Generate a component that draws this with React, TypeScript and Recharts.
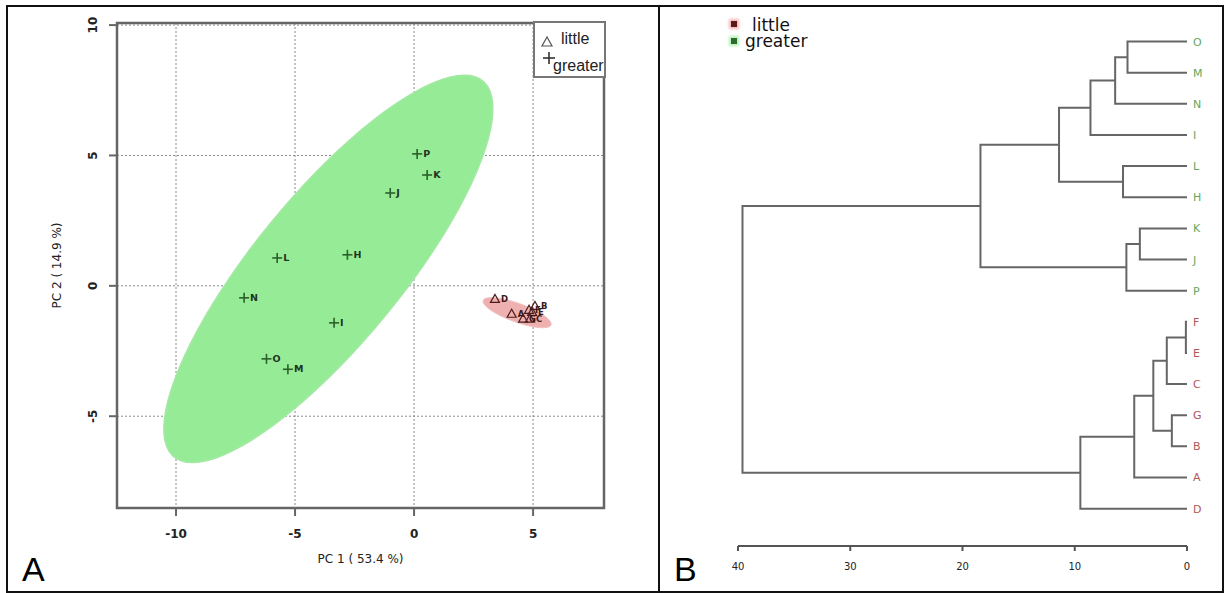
import React from "react";
import {
  ScatterChart, Scatter, XAxis, YAxis, CartesianGrid, ReferenceArea,
} from "recharts";

// ---- panel A: PCA scores ----
const greaterNames = ["H", "I", "J", "K", "L", "M", "N", "O", "P"];
const greaterPC1 = [-2.8, -3.36, -1.0, 0.55, -5.75, -5.3, -7.14, -6.2, 0.13];
const greaterPC2 = [1.19, -1.42, 3.56, 4.25, 1.07, -3.2, -0.46, -2.8, 5.06];

const littleNames = ["A", "B", "C", "D", "E", "F", "G"];
const littlePC1 = [4.1, 5.08, 4.87, 3.4, 4.96, 4.83, 4.58];
const littlePC2 = [-1.07, -0.77, -1.26, -0.5, -1.0, -0.92, -1.26];

// confidence ellipses: centre, semi-axes, rotation (deg)
const greaterEllipse = { cx: -3.6, cy: 0.65, a: 9.7, b: 2.98, angle: 47.5 };
const littleEllipse = { cx: 4.33, cy: -1.03, a: 1.5, b: 0.36, angle: -18 };

const pcaXTicks = [-10, -5, 0, 5];
const pcaYTicks = [-5, 0, 5, 10];

// ---- panel B: dendrogram ----
const leafOrder = ["O", "M", "N", "I", "L", "H", "K", "J", "P", "F", "E", "C", "G", "B", "A", "D"];
const leafGroup = ["g", "g", "g", "g", "g", "g", "g", "g", "g", "l", "l", "l", "l", "l", "l", "l"];
const mergeLeft = ["O", "m1", "m2", "L", "m3", "K", "m6", "m5", "F", "m9", "G", "m10", "m12", "m13", "m8"];
const mergeRight = ["M", "N", "I", "H", "m4", "J", "P", "m7", "E", "C", "B", "m11", "A", "D", "m14"];
const mergeHeight = [5.3, 6.4, 8.6, 5.7, 11.4, 4.2, 5.4, 18.4, 0.1, 1.8, 1.35, 3.0, 4.7, 9.5, 39.6];
const heightTicks = [0, 10, 20, 30, 40];

const font = "'DejaVu Sans', Verdana, sans-serif";
const arial = "'Liberation Sans', Arial, sans-serif";

function ellipsePoints(e: { cx: number; cy: number; a: number; b: number; angle: number }) {
  const t = (e.angle * Math.PI) / 180;
  const pts = [];
  for (let i = 0; i < 90; i++) {
    const u = (i / 90) * Math.PI * 2;
    const x = e.a * Math.cos(u);
    const y = e.b * Math.sin(u);
    pts.push({ x: e.cx + x * Math.cos(t) - y * Math.sin(t), y: e.cy + x * Math.sin(t) + y * Math.cos(t) });
  }
  return pts;
}

const greaterData = greaterNames.map((name, i) => ({ name, x: greaterPC1[i], y: greaterPC2[i] }));
const littleData = littleNames.map((name, i) => ({ name, x: littlePC1[i], y: littlePC2[i] }));

// dendrogram node positions -> U-shaped links
const nodes: Record<string, { y: number; h: number }> = {};
leafOrder.forEach((n, i) => { nodes[n] = { y: i, h: 0 }; });
const links = mergeHeight.map((h, i) => {
  const l = nodes[mergeLeft[i]];
  const r = nodes[mergeRight[i]];
  nodes[`m${i + 1}`] = { y: (l.y + r.y) / 2, h };
  return [
    { x: l.h, y: l.y }, { x: h, y: l.y }, { x: h, y: r.y }, { x: r.h, y: r.y },
  ];
});

const Plus = (p: any) => (
  <g>
    <line x1={p.cx - 5} x2={p.cx + 5} y1={p.cy} y2={p.cy} stroke="#2b5f2b" strokeWidth={1.6} />
    <line x1={p.cx} x2={p.cx} y1={p.cy - 5} y2={p.cy + 5} stroke="#2b5f2b" strokeWidth={1.6} />
    <text x={p.cx + 6} y={p.cy + 3} fontSize={9.5} fontWeight="bold" fill="#223322" fontFamily={font}>
      {p.payload.name}
    </text>
  </g>
);

const Tri = (p: any) => (
  <g>
    <polygon
      points={`${p.cx},${p.cy - 4.5} ${p.cx - 4.5},${p.cy + 3.5} ${p.cx + 4.5},${p.cy + 3.5}`}
      fill="none" stroke="#4a1c1c" strokeWidth={1.2}
    />
    <text x={p.cx + 6} y={p.cy + 3} fontSize={8.5} fontWeight="bold" fill="#3a1a1a" fontFamily={font}>
      {p.payload.name}
    </text>
  </g>
);

const RotTick = (p: any) => (
  <text
    x={p.x - 8} y={p.y} transform={`rotate(-90, ${p.x - 8}, ${p.y})`} textAnchor="middle"
    fontSize={12} fontWeight="bold" fill="#222" fontFamily={font}
  >
    {p.payload.value}
  </text>
);

const LeafTick = (p: any) => {
  const i = p.payload.value;
  return (
    <text x={p.x + 6} y={p.y + 4} fontSize={11} fill={leafGroup[i] === "g" ? "#5fa85f" : "#b05858"} fontFamily={font}>
      {leafOrder[i]}
    </text>
  );
};

const none = () => <g />;

export default function App() {
  return (
    <div style={{ position: "absolute", left: 0, top: 0, width: 1224, height: 593, background: "#fff", fontFamily: font }}>
      {/* frame */}
      <div style={{ position: "absolute", left: 6, top: 5, width: 1214, height: 584, border: "2px solid #111" }} />
      <div style={{ position: "absolute", left: 658, top: 5, width: 2, height: 588, background: "#111" }} />

      <div style={{ position: "absolute", left: 0, top: 0 }}>
        <ScatterChart width={659} height={593} margin={{ top: 23, right: 55, left: 57, bottom: 15 }}>
          <CartesianGrid stroke="#8a8a8a" strokeDasharray="2 2" />
          <XAxis
            type="number" dataKey="x" domain={[-12.48, 7.98]} ticks={pcaXTicks} allowDataOverflow
            height={70} axisLine={false} tickSize={8} tickMargin={13}
            tickLine={{ stroke: "#666", strokeWidth: 2 }}
            tick={{ fontSize: 12, fontWeight: "bold", fill: "#222", fontFamily: font }}
            label={{ value: "PC 1 ( 53.4 %)", position: "insideBottom", offset: 15, fontSize: 12, fill: "#222", fontFamily: font }}
          />
          <YAxis
            type="number" dataKey="y" domain={[-8.52, 10.08]} ticks={pcaYTicks} allowDataOverflow
            width={60} axisLine={false} tickSize={8} tickMargin={4}
            tickLine={{ stroke: "#666", strokeWidth: 2 }} tick={<RotTick />}
            label={{
              content: (p: any) => {
                const vb = p.viewBox;
                const cx = vb.x + 4;
                const cy = vb.y + vb.height / 2;
                return (
                  <text x={cx} y={cy} transform={`rotate(-90, ${cx}, ${cy})`} textAnchor="middle" fontSize={12} fill="#222" fontFamily={font}>
                    PC 2 ( 14.9 %)
                  </text>
                );
              },
            }}
          />
          <Scatter data={ellipsePoints(greaterEllipse)} shape={none} line={{ fill: "#96ec96", stroke: "#a4e8a4", strokeWidth: 1.5 }} lineJointType="linearClosed" isAnimationActive={false} />
          <Scatter data={ellipsePoints(littleEllipse)} shape={none} line={{ fill: "#efb0b0", stroke: "#f2c0c0", strokeWidth: 1 }} lineJointType="linearClosed" isAnimationActive={false} />
          <ReferenceArea x1={-12.48} x2={7.98} y1={-8.52} y2={10.08} fill="none" stroke="#666" strokeWidth={2.5} />
          <Scatter data={greaterData} shape={Plus} isAnimationActive={false} />
          <Scatter data={littleData} shape={Tri} isAnimationActive={false} />
        </ScatterChart>
      </div>

      {/* legend A */}
      <div style={{ position: "absolute", left: 533, top: 21, width: 69, height: 53, border: "2px solid #777", background: "#fff" }} />
      <svg style={{ position: "absolute", left: 540, top: 36 }} width={14} height={12}>
        <polygon points="7,1 2,10 12,10" fill="none" stroke="#555" strokeWidth={1.2} />
      </svg>
      <svg style={{ position: "absolute", left: 542, top: 51 }} width={14} height={14}>
        <line x1={1} x2={13} y1={7} y2={7} stroke="#333" strokeWidth={1.6} />
        <line x1={7} x2={7} y1={1} y2={13} stroke="#333" strokeWidth={1.6} />
      </svg>
      <div style={{ position: "absolute", left: 561, top: 30, fontSize: 16, lineHeight: "18px", fontFamily: arial, color: "#222" }}>little</div>
      <div style={{ position: "absolute", left: 553, top: 57, fontSize: 16, lineHeight: "18px", fontFamily: arial, color: "#222" }}>greater</div>

      <div style={{ position: "absolute", left: 659, top: 0 }}>
        <ScatterChart width={565} height={593} margin={{ top: 26, right: 7, left: 79, bottom: 7 }}>
          <XAxis
            type="number" dataKey="x" domain={[0, 40]} reversed ticks={heightTicks} allowDataOverflow
            height={40} axisLine={{ stroke: "#555", strokeWidth: 2 }} tickSize={5} tickMargin={12}
            tickLine={{ stroke: "#555", strokeWidth: 2 }}
            tick={{ fontSize: 10, fill: "#222", fontFamily: font }}
          />
          <YAxis
            type="number" dataKey="y" orientation="right" domain={[-0.5, 16.2]} reversed allowDataOverflow
            ticks={leafOrder.map((_, i) => i)} width={30} axisLine={false} tickLine={false}
            tickSize={0} tickMargin={0} tick={<LeafTick />}
          />
          {links.map((seg, i) => (
            <Scatter key={i} data={seg} shape={none} line={{ stroke: "#666", strokeWidth: 2 }} isAnimationActive={false} />
          ))}
        </ScatterChart>
      </div>

      {/* legend B */}
      <div style={{ position: "absolute", left: 731, top: 21, width: 6, height: 6, background: "#5a1a1a", boxShadow: "0 0 3px 2px #f4b4b4" }} />
      <div style={{ position: "absolute", left: 731, top: 38, width: 6, height: 6, background: "#2f6a2f", boxShadow: "0 0 3px 2px #b4f0b4" }} />
      <div style={{ position: "absolute", left: 752, top: 17, fontSize: 17, lineHeight: "16px", color: "#111" }}>little</div>
      <div style={{ position: "absolute", left: 745, top: 33, fontSize: 17, lineHeight: "16px", color: "#111" }}>greater</div>

      <div style={{ position: "absolute", left: 22, top: 550, fontSize: 34, fontFamily: arial, color: "#000" }}>A</div>
      <div style={{ position: "absolute", left: 674, top: 550, fontSize: 34, fontFamily: arial, color: "#000" }}>B</div>
    </div>
  );
}
